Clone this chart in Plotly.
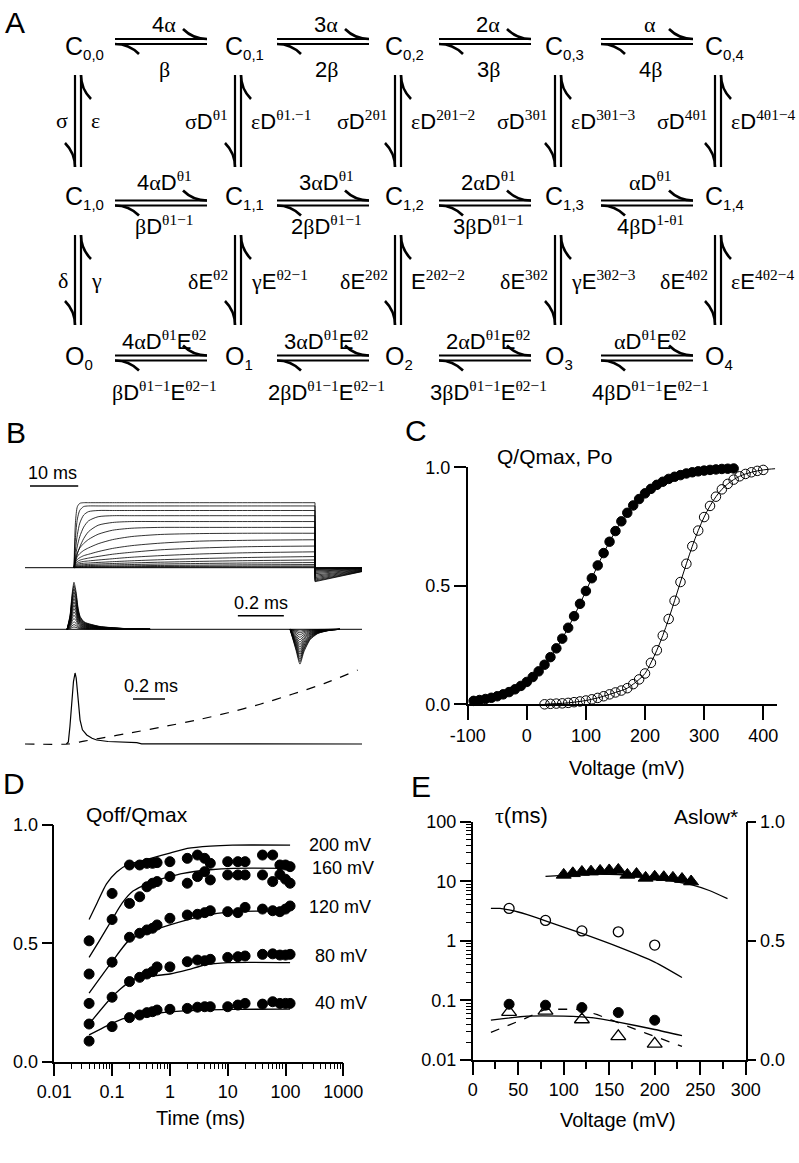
import re
import plotly.graph_objects as go

W, H = 799, 1163
SANS = "Liberation Sans"
SERIF = "Liberation Serif"
BLACK = "black"

# ======================= DATA =======================
# ---- A: kinetic scheme ----
STATE_LETTERS = ["C", "C", "O"]
STATE_SUBS = [
    ["0,0", "0,1", "0,2", "0,3", "0,4"],
    ["1,0", "1,1", "1,2", "1,3", "1,4"],
    ["0", "1", "2", "3", "4"],
]
FWD_RATES = [
    ["4α", "3α", "2α", "α"],
    ["4αD^{θ1}", "3αD^{θ1}", "2αD^{θ1}", "αD^{θ1}"],
    ["4αD^{θ1}E^{θ2}", "3αD^{θ1}E^{θ2}", "2αD^{θ1}E^{θ2}", "αD^{θ1}E^{θ2}"],
]
BWD_RATES = [
    ["β", "2β", "3β", "4β"],
    ["βD^{θ1−1}", "2βD^{θ1−1}", "3βD^{θ1−1}", "4βD^{1-θ1}"],
    ["βD^{θ1−1}E^{θ2−1}", "2βD^{θ1−1}E^{θ2−1}", "3βD^{θ1−1}E^{θ2−1}", "4βD^{θ1−1}E^{θ2−1}"],
]
DOWN_RATES = [
    ["σ", "σD^{θ1}", "σD^{2θ1}", "σD^{3θ1}", "σD^{4θ1}"],
    ["δ", "δE^{θ2}", "δE^{2θ2}", "δE^{3θ2}", "δE^{4θ2}"],
]
UP_RATES = [
    ["ε", "εD^{θ1.−1}", "εD^{2θ1−2}", "εD^{3θ1−3}", "εD^{4θ1−4}"],
    ["γ", "γE^{θ2−1}", "E^{2θ2−2}", "γE^{3θ2−3}", "εE^{4θ2−4}"],
]

# ---- B top: ionic current family (normalised), time in ms ----
TOP_LEVELS = [1.0, 0.95, 0.88, 0.80, 0.71, 0.62, 0.53, 0.43, 0.34, 0.26, 0.195, 0.135, 0.09, 0.055, 0.03, 0.015]
RISE_T = [0, 0.3, 0.7, 1.2, 2, 3, 5, 8, 12, 18, 26, 36, 50]
RISE_ROWS = [
    [0, 0.70, 0.94, 0.99, 1, 1, 1, 1, 1, 1, 1, 1, 1],
    [0, 0.49, 0.79, 0.93, 0.99, 1, 1, 1, 1, 1, 1, 1, 1],
    [0, 0.31, 0.58, 0.78, 0.92, 0.98, 1, 1, 1, 1, 1, 1, 1],
    [0, 0.21, 0.42, 0.60, 0.78, 0.90, 0.98, 1, 1, 1, 1, 1, 1],
    [0, 0.14, 0.30, 0.45, 0.63, 0.78, 0.92, 0.98, 1, 1, 1, 1, 1],
    [0, 0.22, 0.37, 0.49, 0.60, 0.70, 0.83, 0.93, 0.98, 1, 1, 1, 1],
    [0, 0.19, 0.33, 0.41, 0.50, 0.575, 0.695, 0.815, 0.905, 0.965, 0.99, 1, 1],
    [0, 0.18, 0.30, 0.36, 0.43, 0.48, 0.575, 0.69, 0.79, 0.88, 0.95, 0.98, 1],
    [0, 0.175, 0.28, 0.34, 0.39, 0.435, 0.51, 0.61, 0.70, 0.81, 0.89, 0.95, 0.98],
    [0, 0.17, 0.27, 0.325, 0.37, 0.40, 0.455, 0.53, 0.62, 0.715, 0.81, 0.885, 0.94],
    [0, 0.165, 0.265, 0.315, 0.35, 0.37, 0.415, 0.475, 0.545, 0.63, 0.72, 0.805, 0.88],
]
RISE_ROW_OF_TRACE = [0, 1, 2, 3, 4, 5, 6, 7, 8, 9, 10, 10, 10, 10, 10, 10]
TOP_OFF_DROP = 0.215
TOP_OFF_END = 0.06
TOP_PULSE_MS = 50
SCALE_TOP_MS = 10

# ---- B middle: gating current family ----
ON_T = [0, 0.013, 0.022, 0.03, 0.039, 0.048, 0.057, 0.074, 0.087, 0.143, 0.209, 0.274, 0.361]
ON_SHAPE = [0, 0.3, 0.75, 1.0, 0.8, 0.45, 0.27, 0.16, 0.13, 0.06, 0.03, 0.01, 0]
OFF_T = [0.970, 0.996, 1.013, 1.03, 1.057, 1.091, 1.143, 1.187]
OFF_SHAPE = [0, -0.6, -1.0, -0.65, -0.3, -0.12, -0.03, 0]
ON_AMPS = [1.0, 0.93, 0.86, 0.79, 0.72, 0.65, 0.58, 0.51, 0.44, 0.37, 0.30, 0.23, 0.16, 0.10, 0.05]
OFF_RATIO = 0.74
SCALE_MID_MS = 0.2

# ---- B bottom: single gating current + ionic current (dashed) ----
GATE_T = [-0.01, 0.002, 0.012, 0.023, 0.034, 0.044, 0.051, 0.058, 0.066, 0.075, 0.09, 0.117, 0.15, 0.179, 0.25, 0.33, 0.43, 0.46, 1.8375]
GATE_I = [0, 0.03, 0.25, 0.57, 0.88, 1.0, 0.93, 0.76, 0.52, 0.34, 0.2, 0.127, 0.08, 0.056, 0.035, 0.025, 0.018, 0.003, 0.0]
IONIC_T = [-0.269, 0.0, 0.1, 0.2, 0.4, 0.6, 0.8, 1.0, 1.2, 1.4, 1.6, 1.81]
IONIC_I = [0, 0, 0.04, 0.08, 0.16, 0.245, 0.335, 0.44, 0.56, 0.70, 0.85, 1.04]
SCALE_BOT_MS = 0.2

# ---- C: Q-V and G-V ----
Q_V = [-90, -80, -70, -60, -50, -40, -30, -20, -10, 0, 10, 20, 30, 40, 50, 60, 70, 80, 90, 100,
       110, 120, 130, 140, 150, 160, 170, 180, 190, 200, 210, 220, 230, 240, 250, 260, 270, 280,
       290, 300, 310, 320, 330, 340, 350]
Q_NORM = [0.0145, 0.018, 0.0223, 0.0275, 0.034, 0.0419, 0.0515, 0.0633, 0.0775, 0.0944, 0.115,
          0.139, 0.167, 0.199, 0.236, 0.277, 0.323, 0.372, 0.424, 0.478, 0.532, 0.586, 0.638,
          0.686, 0.731, 0.772, 0.808, 0.839, 0.866, 0.89, 0.909, 0.926, 0.939, 0.951, 0.96,
          0.967, 0.974, 0.979, 0.983, 0.986, 0.989, 0.991, 0.993, 0.994, 0.995]
PO_V = [30, 40, 50, 60, 70, 80, 90, 100, 110, 120, 130, 140, 150, 160, 170, 180, 190, 200, 210,
        220, 230, 240, 250, 260, 270, 280, 290, 300, 310, 320, 330, 340, 350, 360, 370, 380, 390, 400]
PO = [0.0, 0.002, 0.003, 0.004, 0.006, 0.009, 0.012, 0.016, 0.021, 0.027, 0.034, 0.042, 0.05,
      0.058, 0.068, 0.085, 0.105, 0.13, 0.175, 0.228, 0.29, 0.36, 0.437, 0.516, 0.593, 0.667,
      0.733, 0.79, 0.837, 0.876, 0.907, 0.93, 0.948, 0.962, 0.972, 0.979, 0.985, 0.989]
PO_FIT_EXT_V = [410, 420]
PO_FIT_EXT = [0.992, 0.994]
C_XTICKS = [-100, 0, 100, 200, 300, 400]
C_YTICKS = [0, 0.5, 1.0]

# ---- D: Qoff/Qmax vs pulse duration ----
D_T = [0.04, 0.1, 0.2, 0.3, 0.4, 0.5, 0.6, 1, 2, 3, 4, 5, 10, 15, 20, 40, 60, 80, 100, 120]
D_VOLTS = ["200 mV", "160 mV", "120 mV", "80 mV", "40 mV"]
D_DATA = [
    [0.51, 0.71, 0.83, 0.83, 0.837, 0.837, 0.84, 0.844, 0.858, 0.872, 0.858, 0.837, 0.844, 0.844, 0.844, 0.872, 0.872, 0.83, 0.83, 0.823],
    [0.37, 0.6, 0.668, 0.696, 0.738, 0.753, 0.76, 0.781, 0.753, 0.781, 0.802, 0.767, 0.788, 0.788, 0.788, 0.788, 0.76, 0.79, 0.77, 0.753],
    [0.246, 0.42, 0.525, 0.542, 0.556, 0.563, 0.577, 0.605, 0.619, 0.622, 0.629, 0.637, 0.633, 0.629, 0.651, 0.644, 0.637, 0.633, 0.644, 0.657],
    [0.159, 0.272, 0.338, 0.356, 0.37, 0.38, 0.40, 0.40, 0.422, 0.429, 0.426, 0.432, 0.44, 0.443, 0.446, 0.453, 0.455, 0.45, 0.45, 0.453],
    [0.087, 0.148, 0.186, 0.197, 0.207, 0.211, 0.218, 0.221, 0.225, 0.23, 0.232, 0.232, 0.232, 0.239, 0.246, 0.243, 0.253, 0.246, 0.246, 0.246],
]
D_FIT_T = [
    [0.04, 0.055, 0.08, 0.12, 0.18, 0.3, 0.5, 1, 2, 5, 12, 120],
    [0.04, 0.06, 0.1, 0.15, 0.23, 0.5, 1.7, 5, 12.5, 120],
    [0.04, 0.1, 0.2, 0.45, 1, 3.3, 12.5, 120],
    [0.04, 0.1, 0.2, 0.3, 0.5, 1, 2, 4, 10, 120],
    [0.04, 0.1, 0.2, 0.45, 1, 3.3, 12.5, 120],
]
D_FIT = [
    [0.6, 0.67, 0.75, 0.8, 0.83, 0.845, 0.86, 0.88, 0.9, 0.91, 0.914, 0.914],
    [0.44, 0.51, 0.6, 0.67, 0.72, 0.76, 0.795, 0.81, 0.816, 0.816],
    [0.289, 0.422, 0.514, 0.549, 0.577, 0.612, 0.633, 0.635],
    [0.159, 0.274, 0.338, 0.356, 0.362, 0.37, 0.387, 0.408, 0.418, 0.418],
    [0.113, 0.162, 0.19, 0.2, 0.21, 0.218, 0.221, 0.222],
]
D_XTICKS = [0.01, 0.1, 1, 10, 100, 1000]
D_XTICKTEXT = ["0.01", "0.1", "1", "10", "100", "1000"]

# ---- E: time constants and Aslow* ----
E_V = [40, 80, 120, 160, 200]
TAU_FAST = [3.5, 2.2, 1.47, 1.42, 0.85]
TAU_FAST_FIT_V = [20, 30, 40, 50, 60, 70, 80, 120, 160, 200, 230]
TAU_FAST_FIT = [3.5, 3.5, 3.3, 3.05, 2.75, 2.45, 2.17, 1.33, 0.79, 0.44, 0.243]
SLOW_V = [100, 110, 120, 130, 140, 150, 160, 170, 180, 190, 200, 210, 220, 230, 240]
TAU_SLOW = [12.8, 13.6, 14.3, 14.5, 14.9, 15.2, 15.5, 12.8, 13.2, 11.4, 11.9, 11.7, 11.4, 10.9, 9.9]
TAU_SLOW_FIT_V = [80, 100, 120, 140, 160, 180, 200, 220, 240, 260, 280]
TAU_SLOW_FIT = [12.1, 12.6, 13.0, 13.2, 13.0, 12.3, 11.3, 10.1, 8.8, 7.0, 5.1]
A_SLOW = [0.234, 0.23, 0.22, 0.199, 0.167]
A_SLOW_MODEL = [0.201, 0.206, 0.17, 0.099, 0.068]
A_FIT_SOLID_V = [20, 60, 100, 133, 160, 200, 230]
A_FIT_SOLID = [0.167, 0.184, 0.184, 0.177, 0.159, 0.128, 0.102]
A_FIT_DASH_V = [20, 55, 80, 118, 137, 160, 190, 230]
A_FIT_DASH = [0.116, 0.17, 0.213, 0.213, 0.19, 0.156, 0.113, 0.057]
E_XTICKS = [0, 50, 100, 150, 200, 250, 300]
E_YTICKS = [0.01, 0.1, 1, 10, 100]
E_YTICKTEXT = ["0.01", "0.1", "1", "10", "100"]

# ======================= HELPERS =======================
def dxp(a, b):
    return [a / W, b / W]


def dyp(top, bot):
    return [1 - bot / H, 1 - top / H]


def rich(s):
    out = []
    for part in re.split(r'(\^\{[^}]*\})', s):
        if part.startswith('^{'):
            out.append('<sup><span style="font-family:%s">%s</span></sup>' % (SERIF, part[2:-1]))
        elif part:
            out.append(re.sub('([αβγδεσθτ]+)',
                              lambda m: '<span style="font-family:%s">%s</span>' % (SERIF, m.group(1)),
                              part))
    return ''.join(out)


fig = go.Figure()
shapes = []
ann = []


def sline(x0, y0, x1, y1, w=2.2, xref='x', yref='y'):
    shapes.append(dict(type='line', xref=xref, yref=yref, x0=x0, y0=y0, x1=x1, y1=y1,
                       line=dict(color=BLACK, width=w)))


def spath(d, w=2.6):
    shapes.append(dict(type='path', xref='x', yref='y', path=d, line=dict(color=BLACK, width=w)))


def text(x, y, s, size, xanchor='center', yanchor='middle', family=SANS):
    ann.append(dict(x=x, y=y, xref='x', yref='y', text=s, showarrow=False,
                    xanchor=xanchor, yanchor=yanchor,
                    font=dict(family=family, size=size, color=BLACK)))


def lines(x, y, xa, ya, width=1.0, dash='solid', shape='linear', smoothing=1.0):
    fig.add_trace(go.Scatter(x=x, y=y, xaxis=xa, yaxis=ya, mode='lines', hoverinfo='skip',
                             line=dict(color=BLACK, width=width, dash=dash, shape=shape,
                                       smoothing=smoothing),
                             cliponaxis=False))


def marks(x, y, xa, ya, symbol, size, lw=1.0):
    fig.add_trace(go.Scatter(x=x, y=y, xaxis=xa, yaxis=ya, mode='markers', hoverinfo='skip',
                             marker=dict(symbol=symbol, size=size, color=BLACK,
                                         line=dict(color=BLACK, width=lw)),
                             cliponaxis=False))


# ======================= PANEL A =======================
STATE_X0, STATE_DX = 63, 160
ROW_Y = [47, 197, 357]
H_X0, H_DX, H_LEN = 115, 162, 92
H_Y = [41.5, 203, 358]
ABOVE_Y = [24, 181, 340]
BELOW_Y = [69, 225, 391]
V_X0, V_DX = 78, 160
V_Y = [(75, 167), (235, 325)]
V_LABEL_Y = [120, 280]

for r in range(3):
    for c in range(5):
        text(STATE_X0 + STATE_DX * c, ROW_Y[r],
             '%s<sub><span style="font-size:15px">%s</span></sub>' % (STATE_LETTERS[r], STATE_SUBS[r][c]),
             25, xanchor='left')

for r in range(3):
    yc = H_Y[r]
    for c in range(4):
        xs = H_X0 + H_DX * c
        xe = xs + H_LEN
        yt, yb = yc - 2.5, yc + 2.5
        sline(xs, yt, xe, yt)
        sline(xs, yb, xe, yb)
        spath('M %g,%g Q %g,%g %g,%g' % (xe, yt, xe - 14, yt, xe - 24, yt - 10))
        spath('M %g,%g Q %g,%g %g,%g' % (xs, yb, xs + 14, yb, xs + 24, yb + 10))
        xm = (xs + xe) / 2 + 3
        text(xm, ABOVE_Y[r], rich(FWD_RATES[r][c]), 22)
        text(xm, BELOW_Y[r], rich(BWD_RATES[r][c]), 22)

for r in range(2):
    ys, ye = V_Y[r]
    for c in range(5):
        xc = V_X0 + V_DX * c
        xl, xr = xc - 3, xc + 3
        sline(xl, ys, xl, ye)
        sline(xr, ys, xr, ye)
        spath('M %g,%g Q %g,%g %g,%g' % (xl, ye, xl, ye - 14, xl - 10, ye - 24))
        spath('M %g,%g Q %g,%g %g,%g' % (xr, ys, xr, ys + 14, xr + 10, ys + 24))
        text(xl - 5, V_LABEL_Y[r], rich(DOWN_RATES[r][c]), 22, xanchor='right')
        text(xr + 8, V_LABEL_Y[r], rich(UP_RATES[r][c]), 22, xanchor='left')

# ======================= PANEL B =======================
B1_X = [-10.17, 59.75]
lines(B1_X, [0, 0], 'x2', 'y2', width=1.0)
for i, L in enumerate(TOP_LEVELS):
    row = RISE_ROWS[RISE_ROW_OF_TRACE[i]]
    lines(RISE_T, [L * f for f in row], 'x2', 'y2', width=0.8, shape='spline', smoothing=0.7)
    lines([TOP_PULSE_MS, TOP_PULSE_MS, B1_X[1]],
          [L * row[-1], -TOP_OFF_DROP * L, -TOP_OFF_END * L], 'x2', 'y2', width=0.8)
sline(-9.13, 1.257, -9.13 + SCALE_TOP_MS, 1.257, w=1.5, xref='x2', yref='y2')

B2_X = [-0.183, 1.283]
lines(B2_X, [0, 0], 'x3', 'y3', width=1.0)
for a in ON_AMPS:
    lines(ON_T, [a * s for s in ON_SHAPE], 'x3', 'y3', width=0.8, shape='spline', smoothing=0.6)
    lines(OFF_T, [a * OFF_RATIO * s for s in OFF_SHAPE], 'x3', 'y3', width=0.8,
          shape='spline', smoothing=0.6)
sline(0.743, 0.289, 0.743 + SCALE_MID_MS, 0.289, w=1.5, xref='x3', yref='y3')

lines(IONIC_T, IONIC_I, 'x4', 'y4', width=1.2, dash='dash', shape='spline', smoothing=0.6)
lines(GATE_T, GATE_I, 'x4', 'y4', width=1.2)
sline(0.406, 0.634, 0.406 + SCALE_BOT_MS, 0.634, w=1.5, xref='x4', yref='y4')

text(52, 473, "10 ms", 18)
text(261, 603, "0.2 ms", 18)
text(151, 686, "0.2 ms", 18)

# ======================= PANEL C =======================
lines(Q_V, Q_NORM, 'x5', 'y5', width=1.0, shape='spline')
lines(PO_V + PO_FIT_EXT_V, PO + PO_FIT_EXT, 'x5', 'y5', width=1.0, shape='spline')
marks(Q_V, Q_NORM, 'x5', 'y5', 'circle', 9.5)
marks(PO_V, PO, 'x5', 'y5', 'circle-open', 9.5, lw=1.0)
text(555, 456, "Q/Qmax, Po", 21)
text(627, 768, "Voltage (mV)", 20)

# ======================= PANEL D =======================
for k in range(5):
    lines(D_FIT_T[k], D_FIT[k], 'x6', 'y6', width=1.3, shape='spline', smoothing=0.6)
    marks(D_T, D_DATA[k], 'x6', 'y6', 'circle', 10)
D_LABEL_POS = [(307, 845), (310, 868), (307, 907), (313, 956), (313, 1003)]
for lab, (lx, ly) in zip(D_VOLTS, D_LABEL_POS):
    text(lx, ly, lab, 18, xanchor='left')
text(137, 814, "Qoff/Qmax", 21)
text(200, 1118, "Time (ms)", 20)

# ======================= PANEL E =======================
lines(TAU_SLOW_FIT_V, TAU_SLOW_FIT, 'x7', 'y7', width=1.3, shape='spline', smoothing=0.6)
lines(TAU_FAST_FIT_V, TAU_FAST_FIT, 'x7', 'y7', width=1.3, shape='spline', smoothing=0.6)
marks(SLOW_V, TAU_SLOW, 'x7', 'y7', 'triangle-up', 13)
marks(E_V, TAU_FAST, 'x7', 'y7', 'circle-open', 10, lw=1.3)
lines(A_FIT_SOLID_V, A_FIT_SOLID, 'x7', 'y8', width=1.3, shape='spline', smoothing=0.6)
lines(A_FIT_DASH_V, A_FIT_DASH, 'x7', 'y8', width=1.3, dash='dash')
marks(E_V, A_SLOW, 'x7', 'y8', 'circle', 10)
marks(E_V, A_SLOW_MODEL, 'x7', 'y8', 'triangle-up-open', 13, lw=1.3)
text(521, 815, rich("τ") + "(ms)", 22)
text(706, 816, "Aslow*", 21)
text(618, 1120, "Voltage (mV)", 20)

# panel letters
for letter, (lx, ly) in zip("ABCDE", [(15, 22), (16, 432), (416, 430), (14, 783), (421, 786)]):
    text(lx, ly, letter, 30)

# ======================= LAYOUT =======================
AX = dict(showline=True, linecolor=BLACK, linewidth=1.5, ticks='outside', tickcolor=BLACK,
          tickwidth=1.5, showgrid=False, zeroline=False, automargin=False,
          tickfont=dict(family=SANS, size=18, color=BLACK))
HID = dict(visible=False, showgrid=False, zeroline=False, automargin=False)

D_MINOR = [m * 10 ** k for k in range(-2, 3) for m in range(2, 10)]
E_MINOR_Y = [m * 10 ** k for k in range(-2, 2) for m in range(2, 10)]
E_MINOR_X = [25, 75, 125, 175, 225, 275]

fig.update_layout(
    width=W, height=H, margin=dict(l=0, r=0, t=0, b=0, pad=0), autosize=False,
    paper_bgcolor='white', plot_bgcolor='rgba(0,0,0,0)', showlegend=False,
    font=dict(family=SANS, size=18, color=BLACK),
    xaxis=dict(HID, domain=[0, 1], range=[0, W], anchor='y'),
    yaxis=dict(HID, domain=[0, 1], range=[H, 0], anchor='x'),
    xaxis2=dict(HID, domain=dxp(25, 362), range=B1_X, anchor='y2'),
    yaxis2=dict(HID, domain=dyp(460, 590), range=[-0.343, 1.657], anchor='x2'),
    xaxis3=dict(HID, domain=dxp(25, 362), range=B2_X, anchor='y3'),
    yaxis3=dict(HID, domain=dyp(572, 672), range=[-0.9085, 1.219], anchor='x3'),
    xaxis4=dict(HID, domain=dxp(25, 362), range=[-0.269, 1.8375], anchor='y4'),
    yaxis4=dict(HID, domain=dyp(665, 752), range=[-0.1127, 1.1127], anchor='x4'),
    xaxis5=dict(AX, domain=dxp(467.7, 776.7), range=[-100, 422.8], anchor='y5',
                tickmode='array', tickvals=C_XTICKS, ticktext=[str(v) for v in C_XTICKS], ticklen=14),
    yaxis5=dict(AX, domain=dyp(467.3, 704.3), range=[0, 1], anchor='x5',
                tickmode='array', tickvals=C_YTICKS, ticktext=['0.0', '0.5', '1.0'], ticklen=12),
    xaxis6=dict(AX, type='log', domain=dxp(54.3, 343.3), range=[-2, 3], anchor='y6',
                tickmode='array', tickvals=D_XTICKS, ticktext=D_XTICKTEXT, ticklen=13,
                minor=dict(tickmode='array', tickvals=D_MINOR, ticks='outside', ticklen=6,
                           tickwidth=1, tickcolor=BLACK, showgrid=False)),
    yaxis6=dict(AX, domain=dyp(824.7, 1061.7), range=[0, 1], anchor='x6',
                tickmode='array', tickvals=C_YTICKS, ticktext=['0.0', '0.5', '1.0'], ticklen=11),
    xaxis7=dict(AX, domain=dxp(472.7, 745.7), range=[0, 300], anchor='y7',
                tickmode='array', tickvals=E_XTICKS, ticktext=[str(v) for v in E_XTICKS], ticklen=13,
                minor=dict(tickmode='array', tickvals=E_MINOR_X, ticks='outside', ticklen=7,
                           tickwidth=1.5, tickcolor=BLACK, showgrid=False)),
    yaxis7=dict(AX, type='log', domain=dyp(821.7, 1060), range=[-2, 2], anchor='x7',
                tickmode='array', tickvals=E_YTICKS, ticktext=E_YTICKTEXT, ticklen=11,
                minor=dict(tickmode='array', tickvals=E_MINOR_Y, ticks='outside', ticklen=5,
                           tickwidth=1, tickcolor=BLACK, showgrid=False)),
    yaxis8=dict(AX, overlaying='y7', side='right', anchor='x7', range=[0, 1],
                tickmode='array', tickvals=C_YTICKS, ticktext=['0.0', '0.5', '1.0'], ticklen=9),
    shapes=shapes,
    annotations=ann,
)

fig.write_html("out.html", config={"displayModeBar": False},
               post_script="document.body.style.margin='0px';document.body.style.padding='0px';")
